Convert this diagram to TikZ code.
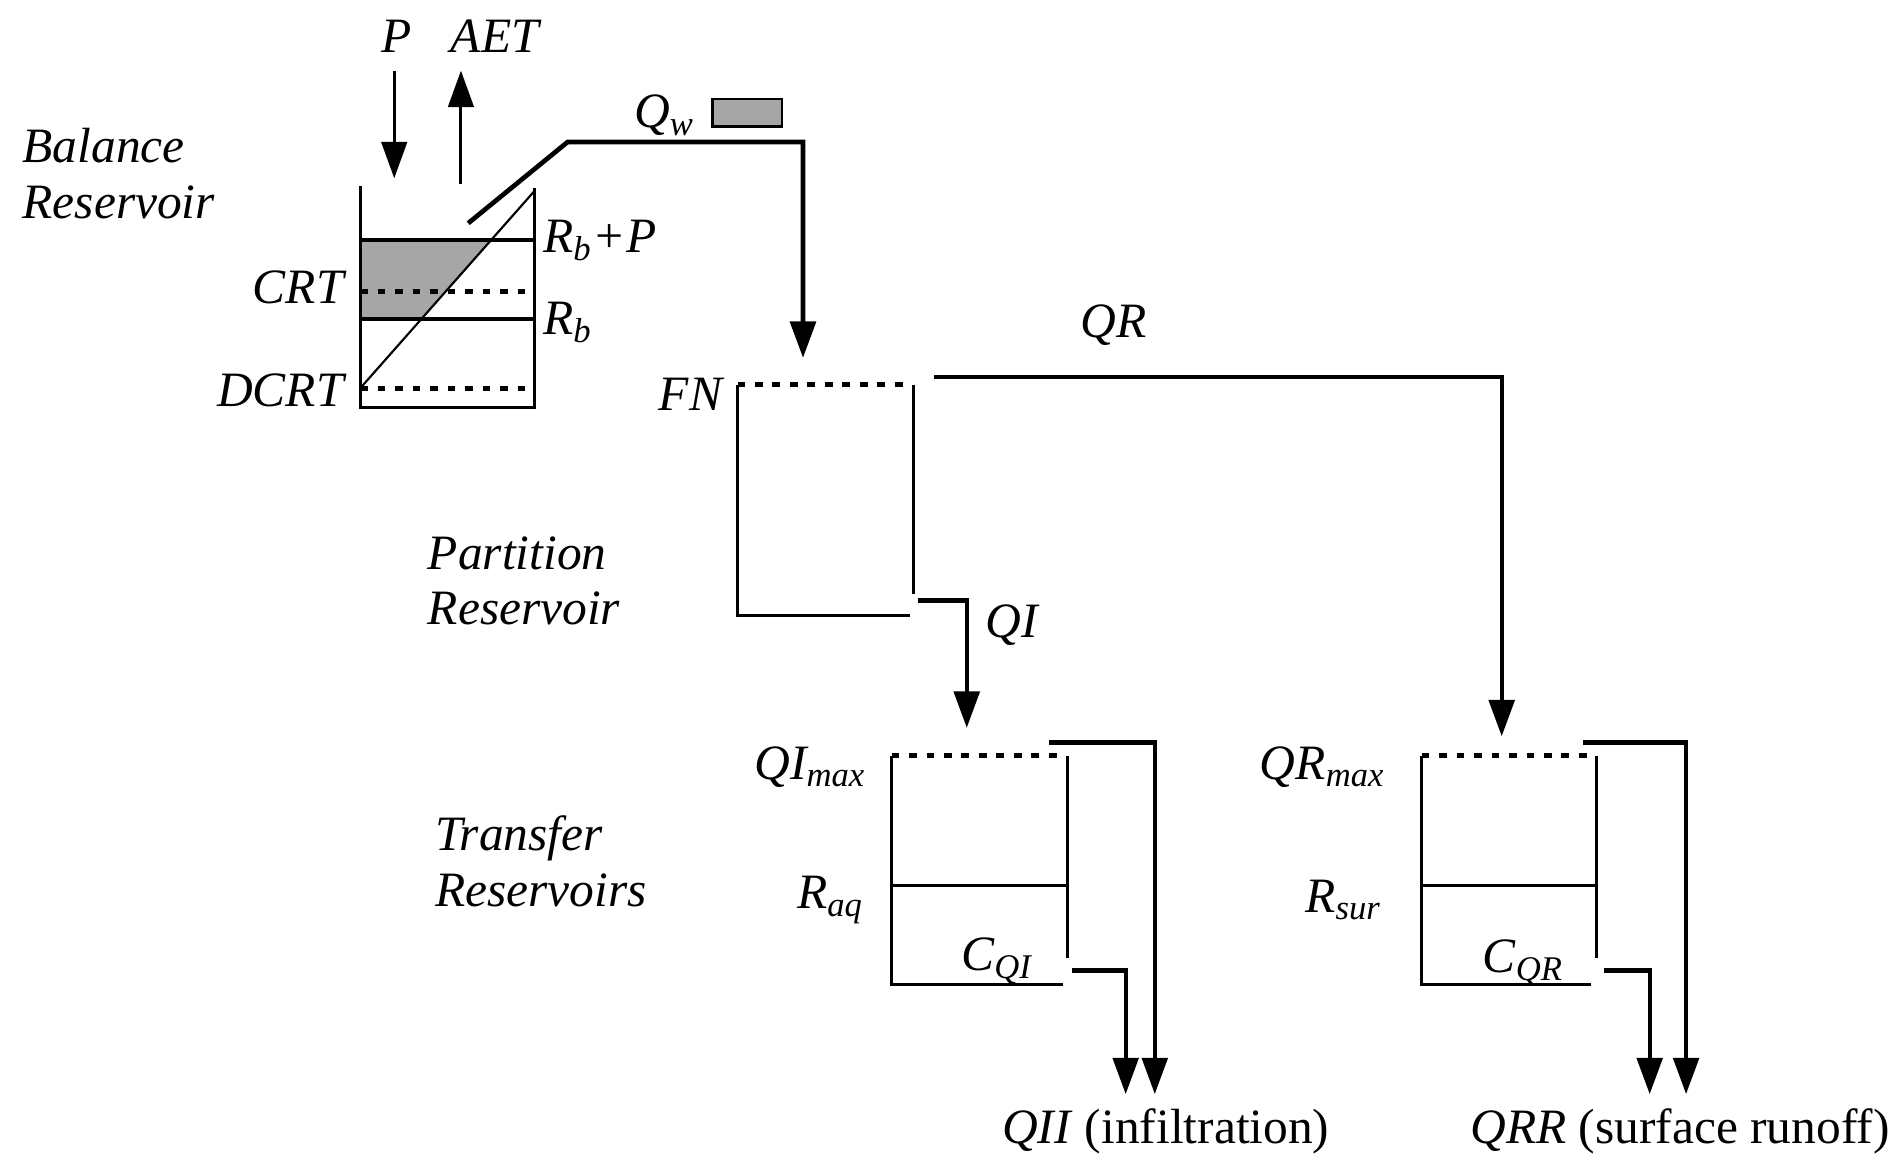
\documentclass[tikz,border=0pt]{standalone}
\usepackage{fontspec}
\setmainfont{Liberation Serif}
\usetikzlibrary{arrows.meta}

\tikzset{
	lbl/.style={font=\fontsize{11.6}{13}\selectfont\itshape, inner sep=0pt},
	outlbl/.style={font=\fontsize{11.6}{13}\selectfont, inner sep=0pt},
	wall/.style={line width=0.7pt},
	level/.style={line width=1.2pt, dash pattern=on 1.8pt off 2.3pt},
	flow/.style={line width=0.7pt, -{Triangle[length=3mm,width=2.1mm]}},
	stipple/.style={fill=black!35},
}

\begin{document}
\begin{tikzpicture}[x=0.1mm,y=-0.1mm]
	\useasboundingbox (0,0) rectangle (1568,962);
	
	% balance reservoir
	\fill[stipple] (297,198) -- (405,198) -- (347,263) -- (297,263) -- cycle;
	\draw[wall] (297,153) -- (297,336) -- (441,336) -- (441,155);
	\draw[wall, line width=1pt] (297,198) -- (441,198);
	\draw[wall, line width=1pt] (297,263) -- (441,263);
	\draw[level] (297,240) -- (441,240);
	\draw[level] (297,320) -- (441,320);
	\draw[wall, line width=0.5pt] (297,320) -- (441,157);
	
	\node[lbl, align=left, anchor=west] (balance) at (18,143) {Balance\\Reservoir};
	\node[lbl] (p) at (327,30) {P};
	\node[lbl] (aet) at (408,30) {AET};
	\node[lbl, anchor=west] (rbp) at (447,198) {R\textsubscript{b}+P};
	\node[lbl, anchor=west] (rb) at (447,266) {R\textsubscript{b}};
	\node[lbl, anchor=east] (crt) at (284,237) {CRT};
	\node[lbl, anchor=east] (dcrt) at (284,322) {DCRT};
	\node[lbl] (qw) at (548,95) {Q\textsubscript{w}};
	\node[stipple, draw, line width=0.6pt, minimum width=5.7mm, minimum height=2.3mm, inner sep=0pt] (qwbox) at (616,93) {};
	
	\coordinate (bal in) at (325,147);
	\coordinate (bal out) at (380,152);
	\coordinate (qw start) at (386,184);
	\coordinate (fn in) at (662,295);
	\draw[flow, shorten <=4pt] (p.south -| bal in) -- (bal in);
	\draw[flow] (bal out) -- ([yshift=-4pt]bal out |- aet.south);
	\draw[flow, line width=1.1pt] (qw start) -- (468,117) -| (fn in);
	
	% partition reservoir
	\draw[level] (608,317) -- (752,317);
	\draw[wall] (753,317) -- (753,490);
	\draw[wall] (608,317) -- (608,507) -- (750,507);
	
	\node[lbl, align=left, anchor=west] (partition) at (352,479) {Partition\\Reservoir};
	\node[lbl, anchor=east] (fn) at (596,325) {FN};
	\node[lbl] (qr) at (918,268) {QR};
	\node[lbl, anchor=west] (qi) at (812,515) {QI};
	
	\coordinate (qr start) at (770,311);
	\coordinate (qr in) at (1238,607);
	\coordinate (qi start) at (757,495);
	\coordinate (qi in) at (797,600);
	\draw[flow, line width=1pt] (qr start) -| (qr in);
	\draw[flow, line width=1pt] (qi start) -| (qi in);
	
	% transfer reservoirs
	\draw[level] (735,623) -- (877,623);
	\draw[wall] (880,623) -- (880,790);
	\draw[wall] (735,623) -- (735,812) -- (876,812);
	\draw[wall] (735,730) -- (880,730);
	\draw[level] (1172,623) -- (1312,623);
	\draw[wall] (1316,623) -- (1316,790);
	\draw[wall] (1172,623) -- (1172,812) -- (1312,812);
	\draw[wall] (1172,730) -- (1316,730);
	
	\node[lbl, align=left, anchor=west] (transfer) at (358,710) {Transfer\\Reservoirs};
	\node[lbl, anchor=east] (qimax) at (715,632) {QI\textsubscript{max}};
	\node[lbl, anchor=east] (raq) at (713,742) {R\textsubscript{aq}};
	\node[lbl] (cqi) at (822,792) {C\textsubscript{QI}};
	\node[lbl, anchor=east] (qrmax) at (1143,632) {QR\textsubscript{max}};
	\node[lbl, anchor=east] (rsur) at (1140,742) {R\textsubscript{sur}};
	\node[lbl] (cqr) at (1256,794) {C\textsubscript{QR}};
	\node[outlbl] (qii) at (961,933) {\textit{QII} (infiltration)};
	\node[outlbl] (qrr) at (1385,933) {\textit{QRR} (surface runoff)};
	
	\coordinate (aq top) at (865,612);
	\coordinate (aq bot) at (884,800);
	\coordinate (sur top) at (1305,612);
	\coordinate (sur bot) at (1322,800);
	\draw[flow, line width=1pt] (aq top) -| (952,902);
	\draw[flow, line width=1pt] (aq bot) -| (928,902);
	\draw[flow, line width=1pt] (sur top) -| (1390,902);
	\draw[flow, line width=1pt] (sur bot) -| (1360,902);
	
\end{tikzpicture}
\end{document}
